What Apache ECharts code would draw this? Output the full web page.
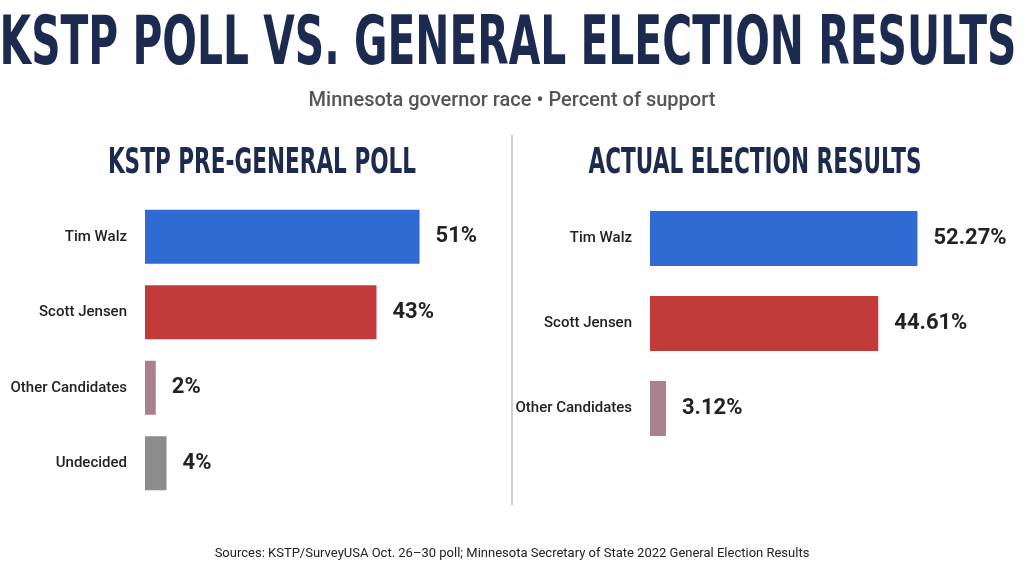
<!DOCTYPE html>
<html><head><meta charset="utf-8">
<script src="https://cdn.jsdelivr.net/npm/echarts@6/dist/echarts.min.js"></script>
<style>html,body{margin:0;padding:0;background:#fff}#c{width:1024px;height:576px}</style>
</head><body><div id="c"></div>
<script>
var pollNames = ['Tim Walz', 'Scott Jensen', 'Other Candidates', 'Undecided'];
var pollValues = [51, 43, 2, 4];
var pollColors = ['#2f6bd2', '#c23a3a', '#a88090', '#8c8c8c'];
var resultNames = ['Tim Walz', 'Scott Jensen', 'Other Candidates'];
var resultValues = [52.27, 44.61, 3.12];
var resultColors = ['#2f6bd2', '#c23a3a', '#a88090'];

var chart = echarts.init(document.getElementById('c'));
var heavy = '"DejaVu Sans", sans-serif';

function items(vals, cols) {
    return vals.map(function (v, i) { return {value: v, itemStyle: {color: cols[i]}}; });
}
function catAxis(idx, names) {
    return {
        type: 'category', gridIndex: idx, data: names, inverse: true,
        axisLine: {show: false}, axisTick: {show: false},
        axisLabel: {color: '#222', fontSize: 15, fontWeight: 500, margin: 18, fontFamily: 'Roboto'}
    };
}
function valAxis(idx) {
    return {type: 'value', gridIndex: idx, min: 0, max: 60, show: false};
}
function barSeries(idx, vals, cols, fmt, w) {
    return {
        type: 'bar', xAxisIndex: idx, yAxisIndex: idx, barWidth: w,
        barMinWidth: 20,
        data: items(vals, cols), silent: true,
        label: {
            show: true, position: 'right', distance: 16, formatter: fmt,
            fontFamily: 'Roboto', fontWeight: 'bold', fontSize: 22, color: '#222'
        }
    };
}
function squeezed(txt, x, y, size, sx) {
    return {type: 'text', x: x, y: y, scaleX: sx,
        style: {text: txt, textAlign: 'center', font: 'bold ' + size + 'px ' + heavy, fill: '#1b2a4e'}};
}

chart.setOption({
    animation: false,
    title: [
        {text: 'Minnesota governor race \u2022 Percent of support', left: 'center', top: 86,
            textStyle: {fontFamily: 'Roboto', fontWeight: 500, fontSize: 20, color: '#555'}},
        {text: 'Sources: KSTP/SurveyUSA Oct. 26\u201330 poll; Minnesota Secretary of State 2022 General Election Results',
            left: 'center', top: 542,
            textStyle: {fontFamily: 'Roboto', fontWeight: 'normal', fontSize: 13, color: '#222'}}
    ],
    graphic: [
        squeezed('KSTP POLL VS. GENERAL ELECTION RESULTS', 508, 12, 68, 0.6),
        squeezed('KSTP PRE-GENERAL POLL', 262, 146, 36, 0.6),
        squeezed('ACTUAL ELECTION RESULTS', 755, 146, 36, 0.6),
        {type: 'line', shape: {x1: 512, y1: 135, x2: 512, y2: 505},
            style: {stroke: '#cfcfcf', lineWidth: 2}}
    ],
    grid: [
        {left: 145, width: 323, top: 199, height: 302},
        {left: 650, width: 307, top: 196, height: 255}
    ],
    xAxis: [valAxis(0), valAxis(1)],
    yAxis: [catAxis(0, pollNames), catAxis(1, resultNames)],
    series: [
        barSeries(0, pollValues, pollColors, function (p) { return p.value + '%'; }, 54),
        barSeries(1, resultValues, resultColors, function (p) { return p.value.toFixed(2) + '%'; }, 55)
    ]
});
</script></body></html>
